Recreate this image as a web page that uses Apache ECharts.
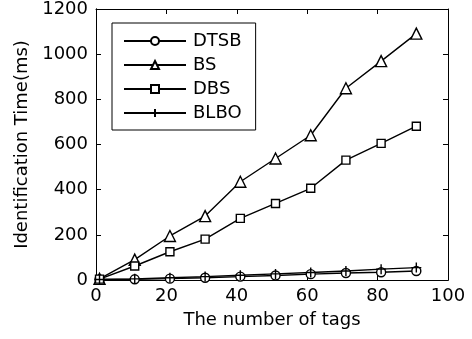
<!DOCTYPE html>
<html>
<head>
<meta charset="utf-8">
<script src="https://cdn.jsdelivr.net/npm/echarts@6/dist/echarts.min.js"></script>
<style>html,body{margin:0;padding:0;background:#fff;}#c{width:472px;height:339px;}</style>
</head>
<body>
<div id="c"></div>
<script>
const tags = [1, 11, 21, 31, 41, 51, 61, 71, 81, 91];
const DTSB = [2, 3, 6, 10, 15, 20, 26, 31, 34, 40];
const BS = [5, 90, 195, 283, 435, 538, 641, 849, 969, 1091];
const DBS = [4, 62, 125, 181, 273, 339, 406, 531, 605, 681];
const BLBO = [2, 5, 10, 15, 21, 27, 33, 40, 48, 55];
const xTicks = [0, 20, 40, 60, 80, 100];
const yTicks = [0, 200, 400, 600, 800, 1000, 1200];

const font = '"DejaVu Sans", sans-serif';
function pts(arr) { return tags.map((t, i) => [t, arr[i]]); }
function mk(name, data, symbol, size) {
  return {
    name: name, type: 'line', data: pts(data), symbol: symbol, symbolSize: size,
    showSymbol: true, animation: false, z: 3,
    lineStyle: { color: '#000', width: 1.4 },
    itemStyle: { color: '#fff', borderColor: '#000', borderWidth: 1.4 },
    emphasis: { disabled: true }
  };
}
const chart = echarts.init(document.getElementById('c'));
const gridRect = { left: 96, right: 24, top: 9, bottom: 59 };
function tickAxis(gi, pos, max, interval) {
  return {
    gridIndex: gi, type: 'value', position: pos, min: 0, max: max, interval: interval,
    axisLine: { show: true, onZero: false, lineStyle: { color: '#000', width: 1 } },
    axisTick: { show: true, inside: true, length: 5, lineStyle: { color: '#000', width: 1 } },
    axisLabel: { show: false },
    splitLine: { show: false }
  };
}
const tickLabel = { fontFamily: font, fontSize: 18, color: '#000' };
chart.setOption({
  backgroundColor: '#fff',
  animation: false,
  grid: [Object.assign({}, gridRect), Object.assign({}, gridRect)],
  legend: {
    orient: 'vertical', left: 112, top: 23,
    data: ['DTSB', 'BS', 'DBS', 'BLBO'],
    itemWidth: 62, itemHeight: 10, itemGap: 6,
    padding: [9, 14, 8, 11],
    borderColor: '#000', borderWidth: 1, backgroundColor: '#fff',
    textStyle: { fontFamily: font, fontSize: 18, color: '#000', padding: [0, 0, 0, 2] },
    selectedMode: false, z: 5
  },
  xAxis: [
    {
      gridIndex: 0, type: 'value', position: 'bottom', min: 0, max: 100, interval: 20,
      axisLine: { show: true, onZero: false, lineStyle: { color: '#000', width: 1 } },
      axisTick: { show: false },
      splitLine: { show: false },
      name: 'The number of tags', nameLocation: 'middle', nameGap: 31,
      nameTextStyle: { fontFamily: font, fontSize: 18, color: '#000' },
      axisLabel: Object.assign({ margin: 7, formatter: v => xTicks.includes(v) ? String(v) : '' }, tickLabel)
    },
    tickAxis(1, 'bottom', 100, 20),
    tickAxis(1, 'top', 100, 20)
  ],
  yAxis: [
    {
      gridIndex: 0, type: 'value', position: 'left', min: 0, max: 1200, interval: 200,
      axisLine: { show: true, onZero: false, lineStyle: { color: '#000', width: 1 } },
      axisTick: { show: false },
      splitLine: { show: false },
      name: 'Identification Time(ms)', nameLocation: 'middle', nameGap: 63,
      nameTextStyle: { fontFamily: font, fontSize: 18, color: '#000' },
      axisLabel: Object.assign({ margin: 8, formatter: v => yTicks.includes(v) ? String(v) : '' }, tickLabel)
    },
    tickAxis(1, 'left', 1200, 200),
    tickAxis(1, 'right', 1200, 200)
  ],
  series: [
    mk('DTSB', DTSB, 'circle', 9),
    mk('BS', BS, 'triangle', 11),
    mk('DBS', DBS, 'rect', 8),
    mk('BLBO', BLBO, 'path://M5,0 L5,10 M0,5 L10,5', 10)
  ]
});
</script>
</body>
</html>
